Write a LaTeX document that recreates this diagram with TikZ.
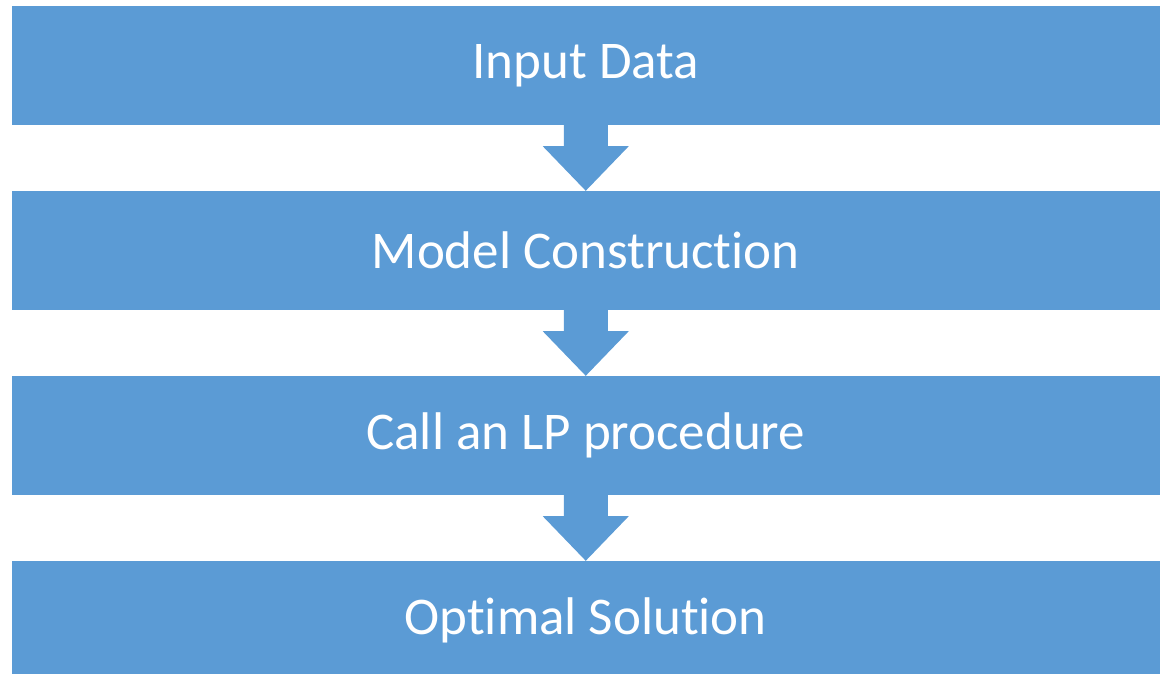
\documentclass[tikz,border=0pt]{standalone}
\usepackage{fontspec}
\setmainfont[Ligatures={NoCommon}]{Carlito}
\usetikzlibrary{calc}
\definecolor{boxblue}{HTML}{5B9BD5}
\tikzset{
  stepbox/.style={rectangle, fill=boxblue, draw=none, inner sep=0pt,
    minimum width=1148.5pt, minimum height=119pt, text=white,
    font=\fontsize{53}{60}\selectfont},
  blockarrow/.style={fill=boxblue, draw=none}
}
\newcommand{\blockarrowdraw}[2]{%
  \fill[blockarrow] ($(#1.south)+(-22,0)$) -- ($(#1.south)+(-22,21)$)
    -- ($(#1.south)+(-43,21)$) -- (#2.north) -- ($(#1.south)+(43,21)$)
    -- ($(#1.south)+(22,21)$) -- ($(#1.south)+(22,0)$) -- cycle;}
\begin{document}
\begin{tikzpicture}[x=1pt, y=-1pt]
  \useasboundingbox (0,0) rectangle (1163,674);
  \node[stepbox] (a) at (585.75,65.5) {Input Data};
  \node[stepbox] (b) at (585.75,250.5) {Model Construction};
  \node[stepbox] (c) at (585.75,435.5) {Call an LP procedure};
  \node[stepbox] (d) at (585.75,620.5) {Optimal Solution};
  \blockarrowdraw{a}{b}
  \blockarrowdraw{b}{c}
  \blockarrowdraw{c}{d}
\end{tikzpicture}
\end{document}
